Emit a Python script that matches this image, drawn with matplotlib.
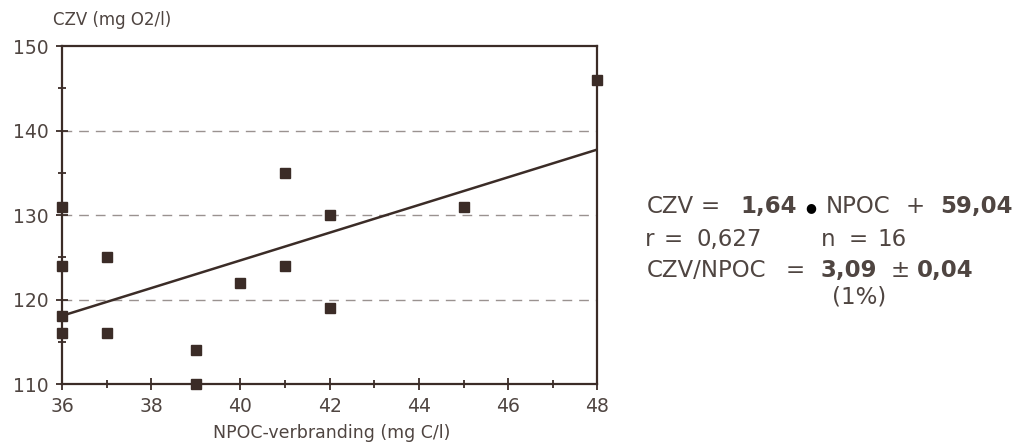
import matplotlib
matplotlib.use('Agg')
import matplotlib.pyplot as plt
import numpy as np

# Data
npoc = [36, 36, 36, 36, 37, 37, 39, 39, 40, 41, 41, 42, 42, 45, 48]
czv = [131, 124, 118, 116, 125, 116, 114, 110, 122, 135, 124, 130, 119, 131, 146]
slope = 1.64
intercept = 59.04
fit_x = [36, 48]

x_ticks = [36, 38, 40, 42, 44, 46, 48]
y_ticks = [110, 120, 130, 140, 150]
grid_y = [120, 130, 140]

ink = '#3b2c27'
txt = '#4f4541'
plt.rcParams['font.family'] = ['DejaVu Sans']

fig = plt.figure(figsize=(10.19, 4.43), dpi=100)
ax = fig.add_axes([0.0608, 0.133, 0.5255, 0.763])

for g in grid_y:
    ax.axhline(g, color='#9a9290', lw=1.0, ls=(0, (7, 5)), zorder=1)

ax.plot(npoc, czv, 's', color=ink, ms=6.5, zorder=3, clip_on=False)
fy = [slope * v + intercept for v in fit_x]
ax.plot(fit_x, fy, '-', color=ink, lw=1.8, zorder=2)

ax.set_xlim(36, 48)
ax.set_ylim(110, 150)
ax.set_xticks(x_ticks)
ax.set_yticks(y_ticks)
ax.set_xticks(np.arange(37, 48, 2), minor=True)
ax.set_yticks(np.arange(115, 150, 10), minor=True)
ax.tick_params(direction='inout', length=9, width=1.3, color=ink,
               labelsize=13.5, labelcolor=txt, pad=5)
ax.tick_params(which='minor', direction='inout', length=6, width=1.3, color=ink)
for s in ax.spines.values():
    s.set_color(ink)
    s.set_linewidth(1.6)

W, H = 1019, 443
fig.text(53 / W, 1 - 20 / H, 'CZV (mg O2/l)', fontsize=12, color=txt, va='center')
fig.text(332 / W, 1 - 433 / H, 'NPOC-verbranding (mg C/l)', fontsize=12.5, color=txt,
         ha='center', va='center')

# regression summary on the right, placed token by token
fs = 16.5
def put(px, py, s, bold=False):
    fig.text(px / W, 1 - py / H, s, fontsize=fs, color=txt,
             fontweight='bold' if bold else 'normal', va='baseline')

put(647, 213, 'CZV')
put(701, 213, '=')
put(740, 213, '1,64', bold=True)
fig.text(811 / W, 1 - 208 / H, '\u25cf', fontsize=9, color='black', ha='center', va='center')
put(826, 213, 'NPOC')
put(906, 213, '+')
put(940, 213, '59,04', bold=True)
put(645, 246, 'r')
put(664, 246, '=')
put(697, 246, '0,627')
put(821, 246, 'n')
put(849, 246, '=')
put(877, 246, '16')
put(647, 277, 'CZV/NPOC')
put(786, 277, '=')
put(820, 277, '3,09', bold=True)
put(891, 277, '\u00b1')
put(917, 277, '0,04', bold=True)
put(832, 304, '(1%)')

fig.savefig('out.png', dpi=100)
